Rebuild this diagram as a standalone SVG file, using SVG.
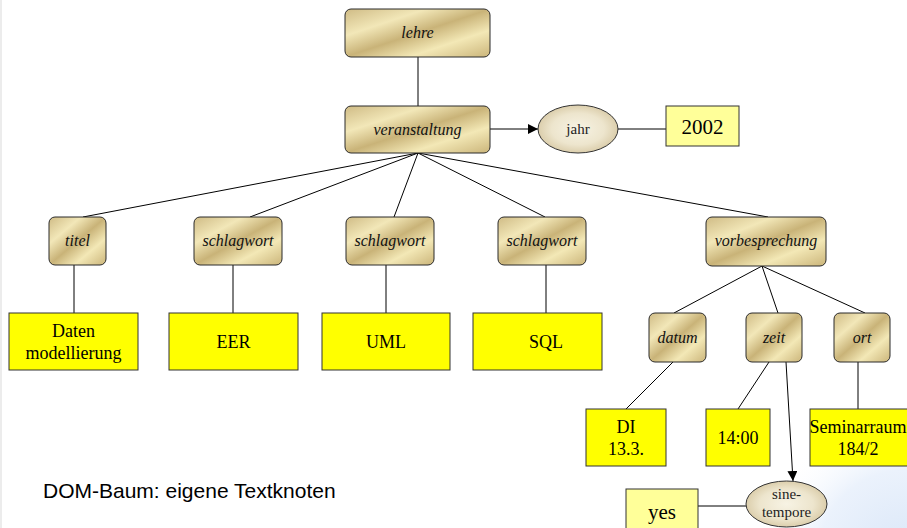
<svg xmlns="http://www.w3.org/2000/svg" width="907" height="528" viewBox="0 0 907 528">
  <defs>
    <linearGradient id="gold" x1="0" y1="0" x2="1" y2="1">
      <stop offset="0" stop-color="#cfbb85"/>
      <stop offset="0.28" stop-color="#f2e7b8"/>
      <stop offset="0.5" stop-color="#c9b378"/>
      <stop offset="0.72" stop-color="#f3e8b6"/>
      <stop offset="1" stop-color="#cbb57a"/>
    </linearGradient>
    <radialGradient id="pearl" cx="0.5" cy="0.5" r="0.55">
      <stop offset="0" stop-color="#f7f3e4"/>
      <stop offset="0.6" stop-color="#ede5cd"/>
      <stop offset="1" stop-color="#d6c7a2"/>
    </radialGradient>
    <radialGradient id="haze" cx="907" cy="560" r="150" gradientUnits="userSpaceOnUse">
      <stop offset="0" stop-color="#d9e6f8"/>
      <stop offset="0.6" stop-color="#ebf2fc"/>
      <stop offset="1" stop-color="#ffffff" stop-opacity="0"/>
    </radialGradient>
    <marker id="arrow" viewBox="0 0 10 10" refX="10" refY="5" markerWidth="10" markerHeight="10" markerUnits="userSpaceOnUse" orient="auto">
      <path d="M0,0 L10,5 L0,10 z" fill="#000"/>
    </marker>
    <style>
      .elem { fill: url(#gold); stroke: #2a2a2a; stroke-width: 1; }
      .elem-t { font-family: "Liberation Serif", "Times New Roman", serif; font-style: italic; font-size: 16px; fill: #111; text-anchor: middle; }
      .text { fill: #ffff00; stroke: #333; stroke-width: 1; }
      .text-t { font-family: "Liberation Serif", "Times New Roman", serif; font-size: 18px; fill: #000; text-anchor: middle; }
      .val { fill: #ffff99; stroke: #333; stroke-width: 1; }
      .val-t { font-family: "Liberation Serif", "Times New Roman", serif; font-size: 21px; fill: #000; text-anchor: middle; }
      .attr { fill: url(#pearl); stroke: #333; stroke-width: 1; }
      .attr-t { font-family: "Liberation Serif", "Times New Roman", serif; font-size: 15px; fill: #222; text-anchor: middle; }
      .edge { stroke: #000; stroke-width: 1; fill: none; }
      .caption { font-family: "Liberation Sans", Arial, sans-serif; font-size: 21px; fill: #000; }
    </style>
  </defs>

  <!-- page background -->
  <rect x="0" y="0" width="907" height="528" fill="#ffffff"/>
  <rect x="0" y="0" width="2" height="528" fill="#ececec"/>
  <rect x="700" y="400" width="207" height="128" fill="url(#haze)"/>

  <!-- connectors -->
  <g id="connectors">
    <line class="edge" x1="418" y1="57" x2="418" y2="106"/>
    <line class="edge" x1="490" y1="129" x2="538" y2="129" marker-end="url(#arrow)"/>
    <line class="edge" x1="618" y1="129" x2="666" y2="129"/>
    <line class="edge" x1="418" y1="153" x2="83" y2="217"/>
    <line class="edge" x1="418" y1="153" x2="250" y2="217"/>
    <line class="edge" x1="418" y1="153" x2="394" y2="217"/>
    <line class="edge" x1="418" y1="153" x2="545" y2="217"/>
    <line class="edge" x1="418" y1="153" x2="768" y2="217"/>
    <line class="edge" x1="74" y1="265" x2="74" y2="313"/>
    <line class="edge" x1="233" y1="265" x2="233" y2="313"/>
    <line class="edge" x1="386" y1="265" x2="386" y2="313"/>
    <line class="edge" x1="546" y1="265" x2="546" y2="313"/>
    <line class="edge" x1="762" y1="266" x2="674" y2="313"/>
    <line class="edge" x1="762" y1="266" x2="778" y2="313"/>
    <line class="edge" x1="762" y1="266" x2="865" y2="313"/>
    <line class="edge" x1="673" y1="362" x2="626" y2="409"/>
    <line class="edge" x1="769" y1="362" x2="738" y2="409"/>
    <line class="edge" x1="786" y1="362" x2="793" y2="481" marker-end="url(#arrow)"/>
    <line class="edge" x1="858" y1="362" x2="858" y2="409"/>
    <line class="edge" x1="698" y1="506" x2="746" y2="506"/>
  </g>

  <!-- element nodes -->
  <g id="lehre">
    <rect class="elem" x="345" y="9" width="145" height="48" rx="6"/>
    <text class="elem-t" x="417.5" y="38">lehre</text>
  </g>
  <g id="veranstaltung">
    <rect class="elem" x="345" y="106" width="145" height="47" rx="6"/>
    <text class="elem-t" x="417.5" y="135">veranstaltung</text>
  </g>
  <g id="titel">
    <rect class="elem" x="49" y="217" width="57" height="48" rx="6"/>
    <text class="elem-t" x="77.5" y="246">titel</text>
  </g>
  <g id="schlagwort1">
    <rect class="elem" x="194" y="217" width="88" height="48" rx="6"/>
    <text class="elem-t" x="238" y="246">schlagwort</text>
  </g>
  <g id="schlagwort2">
    <rect class="elem" x="346" y="217" width="88" height="48" rx="6"/>
    <text class="elem-t" x="390" y="246">schlagwort</text>
  </g>
  <g id="schlagwort3">
    <rect class="elem" x="498" y="217" width="88" height="48" rx="6"/>
    <text class="elem-t" x="542" y="246">schlagwort</text>
  </g>
  <g id="vorbesprechung">
    <rect class="elem" x="706" y="217" width="120" height="49" rx="6"/>
    <text class="elem-t" x="766" y="246">vorbesprechung</text>
  </g>
  <g id="datum">
    <rect class="elem" x="649" y="313" width="57" height="49" rx="6"/>
    <text class="elem-t" x="677.5" y="343">datum</text>
  </g>
  <g id="zeit">
    <rect class="elem" x="746" y="313" width="56" height="49" rx="6"/>
    <text class="elem-t" x="774" y="343">zeit</text>
  </g>
  <g id="ort">
    <rect class="elem" x="834" y="313" width="56" height="49" rx="6"/>
    <text class="elem-t" x="862" y="343">ort</text>
  </g>

  <!-- attribute nodes -->
  <g id="jahr">
    <ellipse class="attr" cx="578" cy="129" rx="40" ry="24"/>
    <text class="attr-t" x="578" y="134">jahr</text>
  </g>
  <g id="sine-tempore">
    <ellipse class="attr" cx="786.5" cy="504" rx="40.5" ry="23"/>
    <text class="attr-t" x="786.5" y="499">sine-</text>
    <text class="attr-t" x="786.5" y="517">tempore</text>
  </g>

  <!-- attribute values -->
  <g id="v2002">
    <rect class="val" x="666" y="106" width="73" height="40"/>
    <text class="val-t" x="702.5" y="134">2002</text>
  </g>
  <g id="vyes">
    <rect class="val" x="626" y="489" width="72" height="45"/>
    <text class="val-t" x="662" y="519">yes</text>
  </g>

  <!-- text nodes -->
  <g id="daten">
    <rect class="text" x="9" y="313" width="129" height="57"/>
    <text class="text-t" x="73.5" y="337">Daten</text>
    <text class="text-t" x="73.5" y="359">modellierung</text>
  </g>
  <g id="eer">
    <rect class="text" x="169" y="313" width="129" height="57"/>
    <text class="text-t" x="233.5" y="348">EER</text>
  </g>
  <g id="uml">
    <rect class="text" x="322" y="313" width="128" height="57"/>
    <text class="text-t" x="386" y="348">UML</text>
  </g>
  <g id="sql">
    <rect class="text" x="473" y="313" width="129" height="57"/>
    <text class="text-t" x="546" y="348">SQL</text>
  </g>
  <g id="di">
    <rect class="text" x="586" y="409" width="80" height="57"/>
    <text class="text-t" x="626" y="433">DI</text>
    <text class="text-t" x="626" y="455">13.3.</text>
  </g>
  <g id="t1400">
    <rect class="text" x="706" y="409" width="64" height="57"/>
    <text class="text-t" x="738" y="444">14:00</text>
  </g>
  <g id="seminarraum">
    <rect class="text" x="810" y="409" width="100" height="57"/>
    <text class="text-t" x="858" y="433">Seminarraum</text>
    <text class="text-t" x="858" y="455">184/2</text>
  </g>

  <text class="caption" x="43" y="498">DOM-Baum: eigene Textknoten</text>
</svg>
